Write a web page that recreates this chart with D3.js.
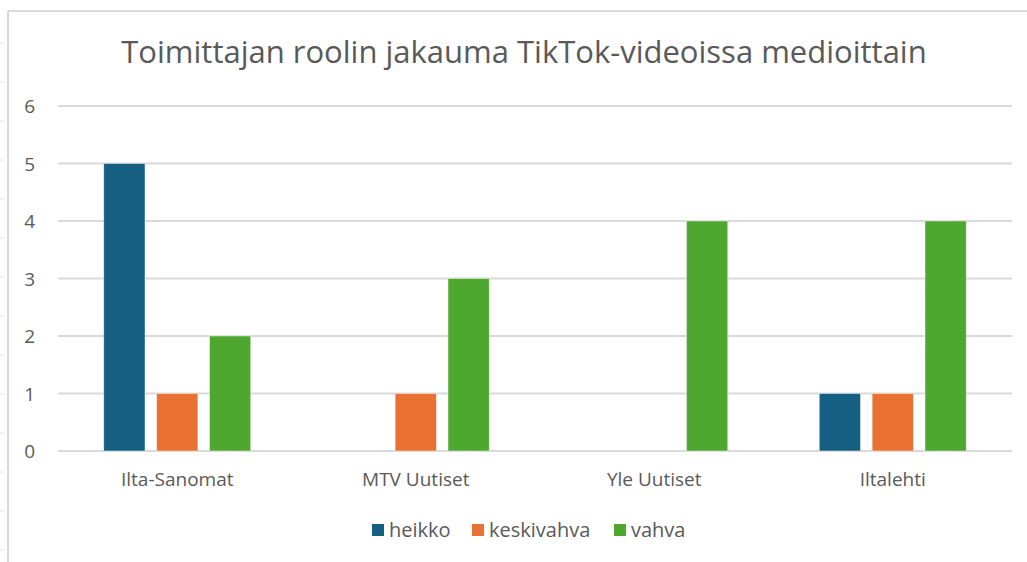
<!DOCTYPE html>
<html>
<head>
<meta charset="utf-8">
<style>
body { margin: 0; background: #fff; }
svg { display: block; }
.title { font-family: "Open Sans", sans-serif; font-size: 31px; fill: #595959; }
.tick-label, .cat-label { font-family: "Open Sans", sans-serif; font-size: 19px; fill: #595959; }
.legend-label { font-family: "Open Sans", sans-serif; font-size: 20px; fill: #595959; }
.grid { stroke: #d9d9d9; stroke-width: 2; }
</style>
</head>
<body>
<script src="https://d3js.org/d3.v7.min.js"></script>
<script>
// data
var categories = ["Ilta-Sanomat", "MTV Uutiset", "Yle Uutiset", "Iltalehti"];
var seriesNames = ["heikko", "keskivahva", "vahva"];
var heikko = [5, 0, 0, 1];
var keskivahva = [1, 1, 0, 1];
var vahva = [2, 3, 4, 4];
var yTicks = [0, 1, 2, 3, 4, 5, 6];
var colors = ["#156082", "#e97132", "#4ea72e"];

var width = 1027, height = 562;
var svg = d3.select("body").append("svg")
	.attr("width", width)
	.attr("height", height);

// chart frame
svg.append("line").attr("x1", 8).attr("x2", width).attr("y1", 11).attr("y2", 11)
	.attr("stroke", "#d9d9d9").attr("stroke-width", 2);
svg.append("line").attr("x1", 8).attr("x2", 8).attr("y1", 11).attr("y2", height)
	.attr("stroke", "#d9d9d9").attr("stroke-width", 2);
// faint row marks on the far left
for (var ry = 43; ry < height; ry += 39) {
	svg.append("line").attr("x1", 0).attr("x2", 4).attr("y1", ry).attr("y2", ry)
		.attr("stroke", "#e4e4e4").attr("stroke-width", 1);
}

svg.append("text").attr("class", "title")
	.attr("x", 524).attr("y", 63)
	.attr("text-anchor", "middle")
	.text("Toimittajan roolin jakauma TikTok-videoissa medioittain");

var x0 = d3.scaleBand().domain(categories).range([58, 1012]).padding(0);
var groupW = 147;
var x1 = d3.scaleBand().domain(seriesNames)
	.range([(x0.bandwidth() - groupW) / 2, (x0.bandwidth() + groupW) / 2])
	.paddingInner(0.22).paddingOuter(0);
var y = d3.scaleLinear().domain([0, 6]).range([451, 106]);

// gridlines + y labels
svg.append("g").selectAll("line").data(yTicks).enter().append("line")
	.attr("class", "grid")
	.attr("x1", 58).attr("x2", 1012)
	.attr("y1", function(d) { return y(d); })
	.attr("y2", function(d) { return y(d); });

svg.append("g").selectAll("text").data(yTicks).enter().append("text")
	.attr("class", "tick-label")
	.attr("x", 35).attr("text-anchor", "end")
	.attr("y", function(d) { return y(d) + 7; })
	.text(function(d) { return d; });

var values = [heikko, keskivahva, vahva];
var rows = [];
categories.forEach(function(c, i) {
	seriesNames.forEach(function(s, j) {
		rows.push({cat: c, series: s, value: values[j][i], color: colors[j]});
	});
});

svg.append("g").selectAll("rect").data(rows.filter(function(d) { return d.value > 0; }))
	.enter().append("rect")
	.attr("x", function(d) { return x0(d.cat) + x1(d.series); })
	.attr("y", function(d) { return y(d.value); })
	.attr("width", x1.bandwidth())
	.attr("height", function(d) { return y(0) - y(d.value); })
	.attr("fill", function(d) { return d.color; })
	.attr("stroke", "#fff").attr("stroke-width", 0.75).attr("stroke-opacity", 0.6);

svg.append("g").selectAll("text").data(categories).enter().append("text")
	.attr("class", "cat-label")
	.attr("x", function(d) { return x0(d) + x0.bandwidth() / 2; })
	.attr("y", 486)
	.attr("text-anchor", "middle")
	.text(function(d) { return d; });

// legend
var legendX = [372, 472, 614];
var legend = svg.append("g").selectAll("g").data(seriesNames).enter().append("g")
	.attr("transform", function(d, i) { return "translate(" + legendX[i] + ",0)"; });
legend.append("rect")
	.attr("x", 0).attr("y", 524).attr("width", 12).attr("height", 12)
	.attr("fill", function(d, i) { return colors[i]; });
legend.append("text").attr("class", "legend-label")
	.attr("x", 17).attr("y", 537)
	.text(function(d) { return d; });
</script>
</body>
</html>
